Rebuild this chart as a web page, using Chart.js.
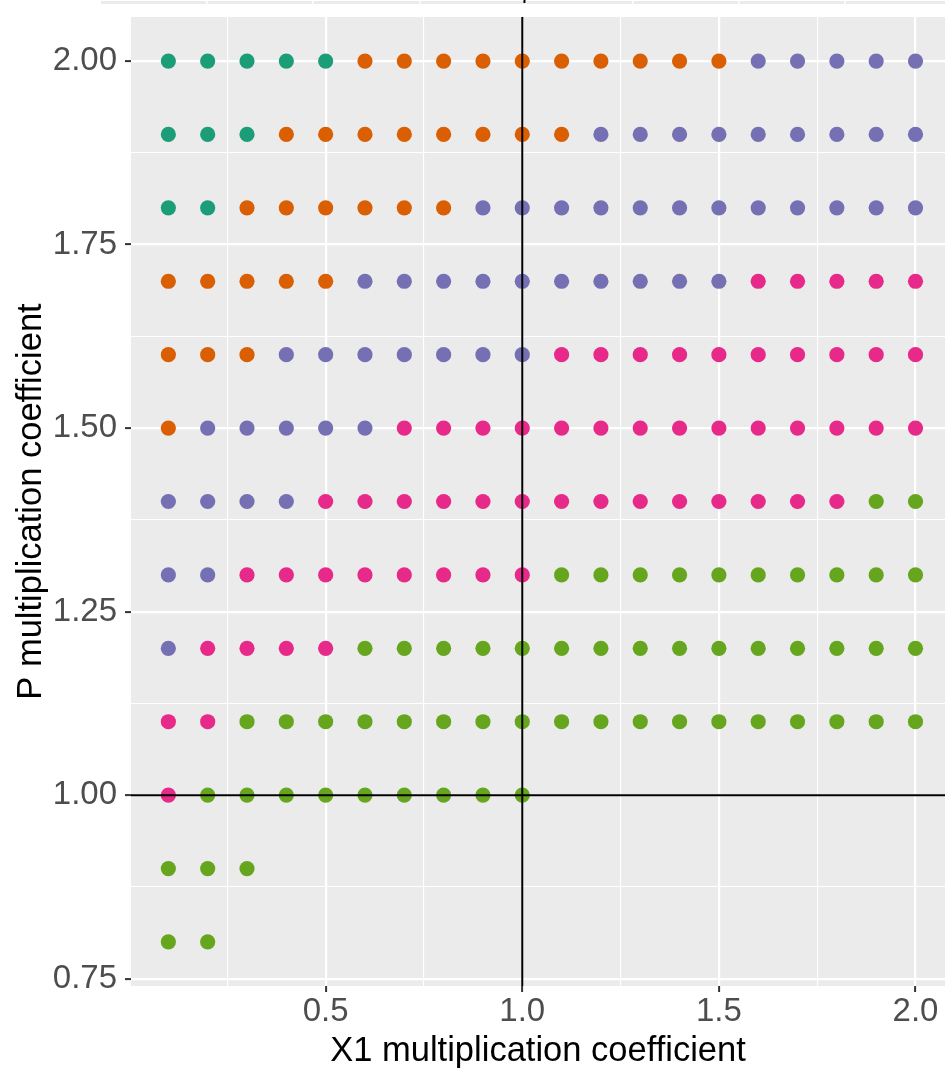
<!DOCTYPE html>
<html>
<head>
<meta charset="utf-8">
<script src="https://cdn.jsdelivr.net/npm/chart.js@4.4.1/dist/chart.umd.min.js"></script>
<style>
    html, body { margin: 0; padding: 0; background: #ffffff; }
    #wrap { width: 945px; height: 1071px; }
</style>
</head>
<body>
<div id="wrap"><canvas id="coefChart" width="945" height="1071"></canvas></div>
<script>
const xCoefs = [0.1, 0.2, 0.3, 0.4, 0.5, 0.6, 0.7, 0.8, 0.9, 1.0,
                1.1, 1.2, 1.3, 1.4, 1.5, 1.6, 1.7, 1.8, 1.9, 2.0];
const pCoefs = [2.0, 1.9, 1.8, 1.7, 1.6, 1.5, 1.4, 1.3, 1.2, 1.1, 1.0, 0.9, 0.8];

const classNames = ['1', '2', '3', '4', '5'];
const classColors = ['#1B9E77', '#D95F02', '#7570B3', '#E7298A', '#66A61E'];

// one string per P row, one char per X1 column: class index, '.' = no point
const classRows = [
    '00000111111111122222',
    '00011111111222222222',
    '00111111222222222222',
    '11111222222222233333',
    '11122222223333333333',
    '12222233333333333333',
    '22223333333333333344',
    '22333333334444444444',
    '23333444444444444444',
    '33444444444444444444',
    '3444444444..........',
    '444.................',
    '44..................',
];

const xMajorTicks = [0.5, 1.0, 1.5, 2.0];
const xMinorTicks = [0.25, 0.75, 1.25, 1.75];
const yMajorTicks = [0.75, 1.00, 1.25, 1.50, 1.75, 2.00];
const yMinorTicks = [0.875, 1.125, 1.375, 1.625, 1.875];

const refX = 1.0;
const refY = 1.0;

const FONT = "'Liberation Sans', Arial, sans-serif";

function isMajor(value, majors) {
    return majors.some(m => Math.abs(m - value) < 1e-6);
}

function buildDatasets() {
    return classNames.map((name, k) => {
        const points = [];
        classRows.forEach((row, r) => {
            [...row].forEach((c, i) => {
                if (c === String(k)) {
                    points.push({ x: xCoefs[i], y: pCoefs[r] });
                }
            });
        });
        return {
            label: name,
            data: points,
            backgroundColor: classColors[k],
            borderWidth: 0,
            pointRadius: 7.6,
            pointHoverRadius: 7.6,
        };
    });
}

function tickList(minors, majors) {
    return [...minors, ...majors].sort((a, b) => a - b).map(v => ({ value: v }));
}

// remnant of the panel strip cut off at the top of the picture
const topStrip = {
    id: 'topStrip',
    beforeDraw(chart) {
        const { ctx } = chart;
        ctx.save();
        ctx.fillStyle = '#EBEBEB';
        ctx.fillRect(101, 1, 844, 3);
        ctx.fillStyle = '#ffffff';
        [206, 312, 419, 525, 632, 738, 844].forEach(x => ctx.fillRect(x, 1, 1.5, 3));
        ctx.fillStyle = '#000000';
        ctx.fillRect(523.5, 0, 2, 3);
        ctx.restore();
    },
};

const panelBackground = {
    id: 'panelBackground',
    beforeDraw(chart) {
        const { ctx, chartArea: a } = chart;
        ctx.save();
        ctx.fillStyle = '#EBEBEB';
        ctx.fillRect(a.left, a.top, a.right - a.left, a.bottom - a.top);
        ctx.restore();
    },
};

const refLines = {
    id: 'refLines',
    afterDatasetsDraw(chart) {
        const { ctx, chartArea: a, scales } = chart;
        const px = scales.x.getPixelForValue(refX);
        const py = scales.y.getPixelForValue(refY);
        ctx.save();
        ctx.strokeStyle = '#000000';
        ctx.lineWidth = 2;
        ctx.beginPath();
        ctx.moveTo(px, a.top);
        ctx.lineTo(px, a.bottom);
        ctx.moveTo(a.left, py);
        ctx.lineTo(a.right, py);
        ctx.stroke();
        ctx.restore();
    },
};

function initCoefChart() {
    const canvas = document.getElementById('coefChart');

    new Chart(canvas, {
        type: 'scatter',
        data: { datasets: buildDatasets() },
        options: {
            responsive: false,
            animation: false,
            devicePixelRatio: 1,
            layout: {
                autoPadding: false,
                padding: { top: 17, left: 0, right: 0, bottom: 0 },
            },
            plugins: {
                legend: { display: false },
                tooltip: { enabled: false },
            },
            scales: {
                x: {
                    type: 'linear',
                    min: 0.005,
                    max: 2.075,
                    afterBuildTicks: s => { s.ticks = tickList(xMinorTicks, xMajorTicks); },
                    afterFit: s => { s.height = 85; s.paddingLeft = 0; s.paddingRight = 0; },
                    border: { display: false },
                    grid: {
                        color: '#ffffff',
                        lineWidth: ctx => isMajor(ctx.tick.value, xMajorTicks) ? 2.2 : 1.1,
                        tickLength: 6,
                        tickWidth: 2,
                        tickColor: ctx => isMajor(ctx.tick.value, xMajorTicks) ? '#333333' : 'rgba(0,0,0,0)',
                    },
                    ticks: {
                        autoSkip: false,
                        maxRotation: 0,
                        padding: 0,
                        color: '#4D4D4D',
                        font: { family: FONT, size: 33 },
                        callback: v => isMajor(v, xMajorTicks) ? v.toFixed(1) : '',
                    },
                    title: {
                        display: true,
                        text: 'X1 multiplication coefficient',
                        color: '#000000',
                        font: { family: FONT, size: 34.5, lineHeight: 1 },
                        padding: { top: 0, bottom: 2.5 },
                    },
                },
                y: {
                    type: 'linear',
                    min: 0.74,
                    max: 2.06,
                    afterBuildTicks: s => { s.ticks = tickList(yMinorTicks, yMajorTicks); },
                    afterFit: s => { s.width = 131; s.paddingTop = 0; s.paddingBottom = 0; },
                    border: { display: false },
                    grid: {
                        color: '#ffffff',
                        lineWidth: ctx => isMajor(ctx.tick.value, yMajorTicks) ? 2.2 : 1.1,
                        tickLength: 6,
                        tickWidth: 2,
                        tickColor: ctx => isMajor(ctx.tick.value, yMajorTicks) ? '#333333' : 'rgba(0,0,0,0)',
                    },
                    ticks: {
                        autoSkip: false,
                        padding: 8,
                        color: '#4D4D4D',
                        font: { family: FONT, size: 33, lineHeight: 1 },
                        callback: v => isMajor(v, yMajorTicks) ? v.toFixed(2) : '',
                    },
                    title: {
                        display: true,
                        text: 'P multiplication coefficient',
                        color: '#000000',
                        font: { family: FONT, size: 34.5, lineHeight: 1 },
                        padding: { top: 14, bottom: 0 },
                    },
                },
            },
        },
        plugins: [topStrip, panelBackground, refLines],
    });
}

if (document.readyState === 'loading') {
    document.addEventListener('DOMContentLoaded', initCoefChart);
} else {
    initCoefChart();
}
</script>
</body>
</html>
